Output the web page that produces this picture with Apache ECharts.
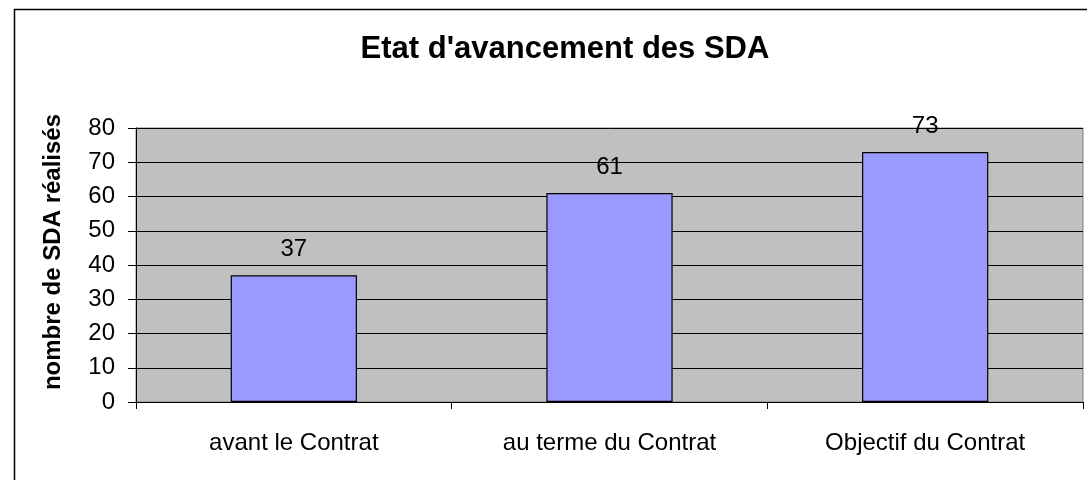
<!DOCTYPE html>
<html>
<head>
<meta charset="utf-8">
<script src="https://cdn.jsdelivr.net/npm/echarts@6/dist/echarts.min.js"></script>
<style>
    html, body { margin: 0; padding: 0; background: #fff; }
    #chart { width: 1087px; height: 480px; }
</style>
</head>
<body>
<div id="chart"></div>
<script>
// données du graphique
const categories = ['avant le Contrat', 'au terme du Contrat', 'Objectif du Contrat']
const sdaValues = [37, 61, 73]
const yTicks = [0, 10, 20, 30, 40, 50, 60, 70, 80]

const font = 'Arial, "Liberation Sans", sans-serif'
const myChart = echarts.init(document.getElementById('chart'))

const options = {
    animation: false,
    backgroundColor: '#fff',
    textStyle: { fontFamily: font },
    title: {
        text: "Etat d'avancement des SDA",
        left: 560,
        top: 29,
        textAlign: 'center',
        textStyle: { fontSize: 31, fontWeight: 'bold', color: '#000', fontFamily: font }
    },
    // cadre extérieur
    graphic: [{
        type: 'rect',
        shape: { x: 14.5, y: 9.5, width: 1200, height: 600 },
        style: { fill: null, stroke: '#000', lineWidth: 1.5 },
        silent: true
    }],
    grid: {
        left: 136,
        right: 4,
        top: 128,
        bottom: 78,
        show: true,
        backgroundColor: '#c0c0c0',
        borderColor: '#808080',
        borderWidth: 1
    },
    xAxis: {
        type: 'category',
        data: categories,
        axisLine: { lineStyle: { color: '#000', width: 1 } },
        axisTick: { show: true, alignWithLabel: false, length: 7, lineStyle: { color: '#000' } },
        axisLabel: { color: '#000', fontSize: 24, margin: 29, fontFamily: font }
    },
    yAxis: {
        type: 'value',
        min: yTicks[0],
        max: yTicks[yTicks.length - 1],
        interval: 10,
        name: 'nombre de SDA réalisés',
        nameLocation: 'middle',
        nameGap: 71,
        nameTextStyle: { fontSize: 24, fontWeight: 'bold', color: '#000', fontFamily: font, padding: [0, 0, 0, 26] },
        axisLine: { show: true, lineStyle: { color: '#000', width: 1 } },
        axisTick: { show: true, length: 8, lineStyle: { color: '#000' } },
        axisLabel: { color: '#000', fontSize: 24, margin: 21, fontFamily: font },
        splitLine: { show: true, lineStyle: { color: '#000', width: 1 } }
    },
    series: [
        {
            type: 'bar',
            data: sdaValues,
            barWidth: '40%',
            itemStyle: { color: '#9999ff', borderColor: '#000', borderWidth: 1.2 },
            label: {
                show: true,
                position: 'top',
                distance: 14,
                color: '#000',
                fontSize: 24,
                fontFamily: font
            }
        }
    ]
}
myChart.setOption(options)
</script>
</body>
</html>
